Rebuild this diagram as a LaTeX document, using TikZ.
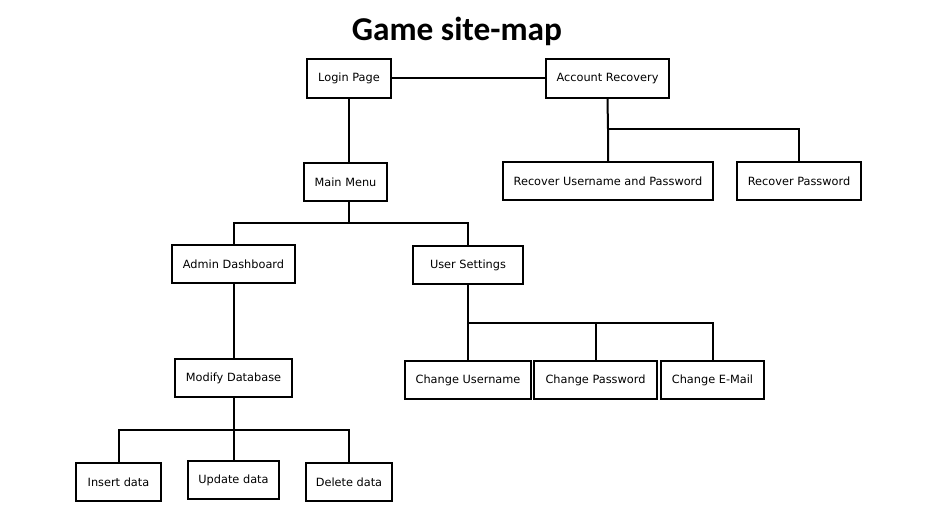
\documentclass[tikz,border=0pt]{standalone}
\usepackage{fontspec}
\setmainfont{DejaVu Sans}
\newfontfamily\titlefont{Carlito}
\begin{document}
\begin{tikzpicture}[x=0.75pt,y=-0.75pt,
  box/.style={draw=black,line width=1.5pt,fill=white,inner sep=0pt,font=\fontsize{8.5}{10}\selectfont},
  link/.style={draw=black,line width=1.5pt}]
\useasboundingbox (0,0) rectangle (940,510);
\node[font=\titlefont\bfseries\fontsize{25}{30}\selectfont] (title) at (457,31) {Game site-map};
\node[box,minimum width=84*0.75pt,minimum height=39*0.75pt] (login) at (349,78.5) {Login Page};
\node[box,minimum width=123*0.75pt,minimum height=39*0.75pt] (ar) at (607.5,78.5) {Account Recovery};
\node[box,minimum width=83*0.75pt,minimum height=38*0.75pt] (mm) at (345.5,182) {Main Menu};
\node[box,minimum width=210*0.75pt,minimum height=37*0.75pt] (rup) at (608,181) {Recover Username and Password};
\node[box,minimum width=124*0.75pt,minimum height=37*0.75pt] (rp) at (799,181) {Recover Password};
\node[box,minimum width=123*0.75pt,minimum height=38*0.75pt] (ad) at (233.5,264) {Admin Dashboard};
\node[box,minimum width=110*0.75pt,minimum height=38*0.75pt] (us) at (468,265) {User Settings};
\node[box,minimum width=117*0.75pt,minimum height=38*0.75pt] (md) at (233.5,378) {Modify Database};
\node[box,minimum width=126*0.75pt,minimum height=38*0.75pt] (cu) at (468,380) {Change Username};
\node[box,minimum width=123*0.75pt,minimum height=38*0.75pt] (cp) at (595.5,380) {Change Password};
\node[box,minimum width=103*0.75pt,minimum height=38*0.75pt] (ce) at (712.5,380) {Change E-Mail};
\node[box,minimum width=85*0.75pt,minimum height=38*0.75pt] (ins) at (118.5,482) {Insert data};
\node[box,minimum width=91*0.75pt,minimum height=38*0.75pt] (upd) at (233.5,480) {Update data};
\node[box,minimum width=86*0.75pt,minimum height=38*0.75pt] (del) at (349,482) {Delete data};
\coordinate (j1) at (349,223);
\coordinate (j2) at (608,129);
\coordinate (j3) at (468,323);
\coordinate (j4) at (233.5,430);
\draw[link] (login.east) -- (ar.west);
\draw[link] (login.south) -- (login.south |- mm.north);
\draw[link] (j1 |- mm.south) -- (j1);
\draw[link] (ad.north) |- (j1) -| (us.north);
\draw[link] (ar.south) -- (j2) -- (rup.north);
\draw[link] (j2) -| (rp.north);
\draw[link] (ad.south) -- (md.north);
\draw[link] (us.south) -- (j3) -- (cu.north);
\draw[link] (j3) -| (cp.north);
\draw[link] (j3) -| (ce.north);
\draw[link] (md.south) -- (j4) -- (upd.north);
\draw[link] (j4) -| (ins.north);
\draw[link] (j4) -| (del.north);
\end{tikzpicture}
\end{document}
